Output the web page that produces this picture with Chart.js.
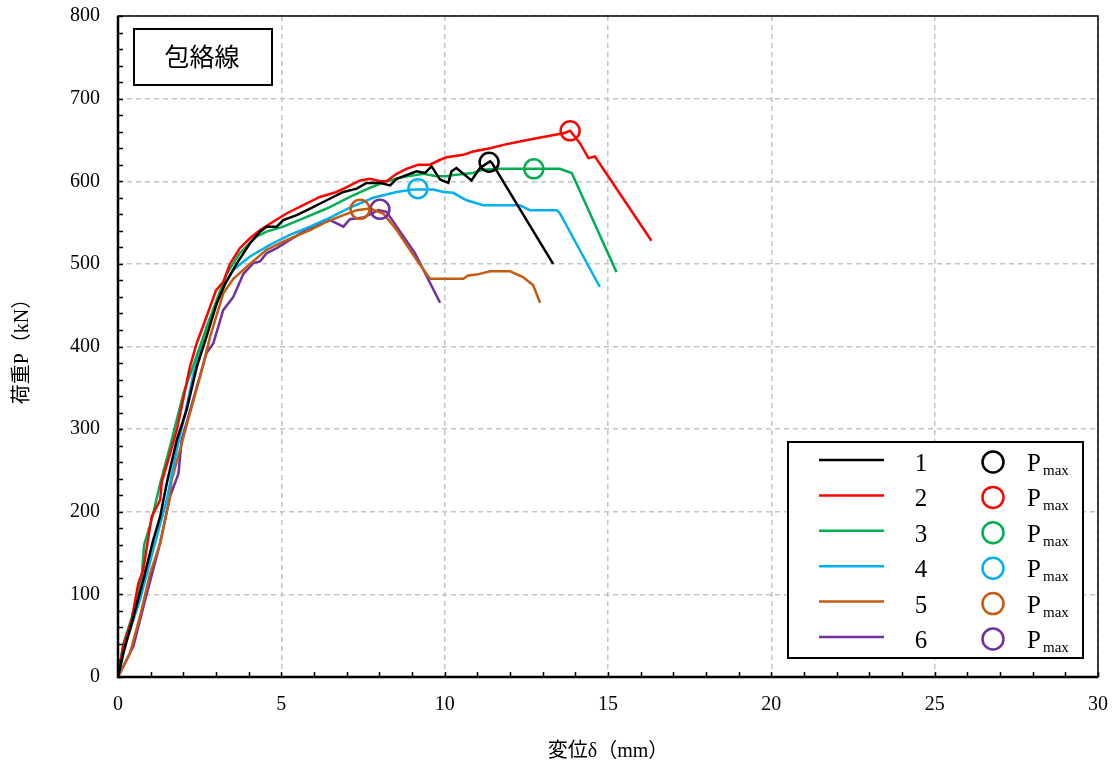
<!DOCTYPE html>
<html>
<head>
<meta charset="utf-8">
<script src="https://cdn.jsdelivr.net/npm/chart.js@4/dist/chart.umd.min.js"></script>
<style>
  html, body { margin: 0; padding: 0; background: #fff; }
  #wrap { width: 1115px; height: 771px; }
</style>
</head>
<body>
<div id="wrap"><canvas id="c" width="1115" height="771"></canvas></div>
<script>
// ---- data ----
const seriesLabels = ['1', '2', '3', '4', '5', '6'];
const pmaxLabel = 'P';
const pmaxSub = 'max';
const xTitle = '変位δ（mm）';
const yTitle = '荷重P（kN）';
const boxTitle = '包絡線';

const disp1 = [0, 0.16, 0.42, 0.77, 1.08, 1.29, 1.49, 1.8, 2.1, 2.41, 2.71, 3.02, 3.28, 3.63, 4.04, 4.35, 4.55, 4.86, 5.06, 5.47, 5.88, 6.39, 6.9, 7.31, 7.61, 8.02, 8.33, 8.53, 9.14, 9.4, 9.6, 9.86, 10.11, 10.21, 10.36, 10.82, 11.08, 11.39, 11.45, 13.32];
const load1 = [0, 29, 65, 117, 166, 194, 234, 287, 323, 375, 412, 452, 476, 500, 525, 539, 545, 545, 553, 559, 567, 577, 587, 591, 598, 598, 595, 603, 612, 610, 618, 602, 598, 612, 616, 601, 616, 624, 622, 500];

const disp2 = [0, 0.16, 0.42, 0.62, 0.77, 1.03, 1.29, 1.34, 1.54, 1.8, 2.2, 2.41, 2.71, 3.0, 3.22, 3.43, 3.73, 4.04, 4.35, 4.75, 5.16, 5.67, 6.18, 6.69, 7.0, 7.41, 7.71, 8.02, 8.22, 8.53, 8.83, 9.19, 9.55, 9.86, 10.06, 10.57, 10.87, 11.39, 11.8, 12.3, 12.81, 13.22, 13.63, 13.84, 14.14, 14.4, 14.6, 16.33];
const load2 = [0, 37, 69, 113, 129, 194, 214, 236, 263, 299, 375, 404, 436, 468, 478, 500, 519, 531, 541, 551, 561, 571, 581, 587, 593, 601, 603, 600, 600, 609, 615, 620, 620, 626, 629, 632, 636, 640, 644, 648, 652, 655, 658, 661, 646, 628, 630, 528];

const disp3 = [0, 0.16, 0.42, 0.72, 0.8, 1.03, 1.29, 1.6, 2.0, 2.51, 3.02, 3.33, 3.73, 4.24, 4.55, 5.06, 5.67, 6.39, 7.1, 7.71, 8.22, 8.73, 9.35, 9.75, 10.06, 10.36, 10.87, 11.18, 11.58, 13.53, 13.89, 15.26];
const load3 = [0, 40, 72, 120, 160, 190, 234, 280, 343, 400, 456, 488, 513, 533, 539, 545, 555, 567, 581, 592, 600, 605, 609, 606, 606, 608, 610, 614, 615, 615, 610, 490];

const disp4 = [0, 0.27, 0.67, 1.08, 1.49, 1.8, 2.05, 2.31, 2.71, 3.12, 3.53, 4.04, 4.65, 5.26, 5.88, 6.49, 7.1, 7.81, 8.53, 9.04, 9.65, 9.96, 10.26, 10.67, 11.18, 12.3, 12.61, 13.43, 13.53, 14.75];
const load4 = [0, 45, 93, 154, 214, 275, 318, 367, 424, 464, 493, 509, 523, 535, 545, 556, 568, 580, 587, 590, 590, 587, 586, 577, 571, 571, 565, 565, 561, 472];

const disp5 = [0, 0.37, 0.67, 0.98, 1.29, 1.59, 1.64, 1.9, 2.2, 2.51, 2.82, 3.22, 3.53, 4.04, 4.55, 5.06, 5.88, 6.39, 6.9, 7.31, 7.71, 8.12, 8.53, 9.14, 9.55, 10.57, 10.72, 10.98, 11.39, 12.0, 12.4, 12.71, 12.92];
const load5 = [0, 29, 73, 125, 162, 218, 238, 275, 319, 363, 412, 464, 482, 500, 517, 527, 541, 551, 559, 565, 567, 561, 541, 505, 482, 482, 486, 487, 491, 491, 484, 474, 453];

const disp6 = [0, 0.47, 0.83, 1.29, 1.59, 1.85, 1.95, 2.41, 2.71, 2.92, 3.22, 3.53, 3.84, 4.14, 4.35, 4.55, 4.86, 5.26, 5.67, 6.18, 6.49, 6.9, 7.1, 7.51, 7.71, 7.97, 8.22, 9.09, 9.86];
const load6 = [0, 37, 93, 162, 218, 246, 287, 351, 392, 404, 444, 460, 488, 501, 503, 513, 519, 529, 539, 549, 553, 545, 554, 556, 560, 565, 563, 513, 453];

const pmaxDisp = [11.36, 13.84, 12.73, 9.18, 7.41, 8.02];
const pmaxLoad = [623, 661, 615, 591, 566, 566];

const xTicksMajor = [0, 5, 10, 15, 20, 25, 30];
const yTicksMajor = [0, 100, 200, 300, 400, 500, 600, 700, 800];

// ---- styles ----
const colors = ['#000000', '#FF0000', '#00B050', '#00B0F0', '#C55A11', '#7030A0'];

const dispAll = [disp1, disp2, disp3, disp4, disp5, disp6];
const loadAll = [load1, load2, load3, load4, load5, load6];

const datasets = [];
for (let i = 0; i < 6; i++) {
  datasets.push({
    label: 'Pmax ' + seriesLabels[i],
    data: [{ x: pmaxDisp[i], y: pmaxLoad[i] }],
    showLine: false,
    pointStyle: 'circle',
    pointRadius: 9.5,
    pointBorderWidth: 2.5,
    pointBorderColor: colors[i],
    pointBackgroundColor: 'rgba(0,0,0,0)',
    borderColor: colors[i],
    order: 0
  });
}
for (let i = 0; i < 6; i++) {
  datasets.push({
    label: seriesLabels[i],
    data: dispAll[i].map((d, k) => ({ x: d, y: loadAll[i][k] })),
    showLine: true,
    borderColor: colors[i],
    borderWidth: 2.5,
    pointRadius: 0,
    tension: 0,
    fill: false,
    order: 1 + i
  });
}

const serif = "'Liberation Serif', 'Noto Sans CJK JP', serif";

const decorPlugin = {
  id: 'decor',
  afterDraw(chart) {
    const { ctx, chartArea: a, scales: { x, y } } = chart;
    ctx.save();
    // inward minor ticks
    ctx.strokeStyle = '#000';
    ctx.lineWidth = 1.5;
    ctx.beginPath();
    for (let v = 0; v <= 30; v += 1) {
      const px = Math.round(x.getPixelForValue(v)) + 0.5;
      ctx.moveTo(px, a.bottom);
      ctx.lineTo(px, a.bottom - 5);
    }
    for (let v = 0; v <= 800; v += 20) {
      const py = Math.round(y.getPixelForValue(v)) + 0.5;
      ctx.moveTo(a.left, py);
      ctx.lineTo(a.left + 5, py);
    }
    ctx.stroke();
    // frame
    ctx.lineWidth = 1.5;
    ctx.strokeRect(a.left, a.top, a.right - a.left, a.bottom - a.top);
    ctx.lineWidth = 2.5;
    ctx.beginPath();
    ctx.moveTo(a.left, a.top);
    ctx.lineTo(a.left, a.bottom);
    ctx.lineTo(a.right, a.bottom);
    ctx.stroke();

    // title box
    ctx.fillStyle = '#fff';
    ctx.fillRect(134, 29, 138, 56);
    ctx.lineWidth = 2;
    ctx.strokeStyle = '#000';
    ctx.strokeRect(134, 29, 138, 56);
    ctx.fillStyle = '#000';
    ctx.font = "25px 'Noto Sans CJK JP', sans-serif";
    ctx.textAlign = 'center';
    ctx.textBaseline = 'middle';
    ctx.fillText(boxTitle, 202, 56);

    // legend
    const lx = 788, ly = 442, lw = 295, lh = 216;
    ctx.fillStyle = '#fff';
    ctx.fillRect(lx, ly, lw, lh);
    ctx.lineWidth = 2;
    ctx.strokeStyle = '#000';
    ctx.strokeRect(lx, ly, lw, lh);
    for (let i = 0; i < seriesLabels.length; i++) {
      const cy = 460 + i * 35.4;
      ctx.strokeStyle = colors[i];
      ctx.lineWidth = 2.5;
      ctx.beginPath();
      ctx.moveTo(819, cy);
      ctx.lineTo(884, cy);
      ctx.stroke();
      ctx.beginPath();
      ctx.arc(993, cy + 2, 10.5, 0, Math.PI * 2);
      ctx.stroke();
      ctx.fillStyle = '#000';
      ctx.font = '25px ' + serif;
      ctx.textAlign = 'center';
      ctx.textBaseline = 'alphabetic';
      ctx.fillText(seriesLabels[i], 921, cy + 11);
      ctx.textAlign = 'left';
      ctx.fillText(pmaxLabel, 1027, cy + 11);
      ctx.font = '15px ' + serif;
      ctx.fillText(pmaxSub, 1043, cy + 15);
    }
    ctx.restore();
  }
};

new Chart(document.getElementById('c'), {
  type: 'scatter',
  data: { datasets },
  options: {
    responsive: false,
    animation: false,
    devicePixelRatio: 1,
    layout: { padding: { top: 16, right: 17, left: 0, bottom: 0 } },
    plugins: { legend: { display: false }, tooltip: { enabled: false } },
    scales: {
      x: {
        type: 'linear',
        min: 0, max: 30,
        afterFit(s) { s.height = 94; s.paddingLeft = 0; s.paddingRight = 0; s.paddingTop = 0; s.paddingBottom = 0; },
        afterBuildTicks(s) { s.ticks = xTicksMajor.map(v => ({ value: v })); },
        grid: { color: '#c4c4c4', lineWidth: 1.5, drawTicks: false },
        border: { display: false, dash: [5, 4] },
        ticks: { padding: 16, color: '#000', font: { family: serif, size: 20 } },
        title: { display: true, text: xTitle, color: '#000', font: { family: serif, size: 20 }, padding: { top: 0, bottom: 7 } }
      },
      y: {
        type: 'linear',
        min: 0, max: 800,
        afterFit(s) { s.width = 118; s.paddingLeft = 0; s.paddingRight = 0; s.paddingTop = 0; s.paddingBottom = 0; },
        afterBuildTicks(s) { s.ticks = yTicksMajor.map(v => ({ value: v })); },
        grid: { color: '#c4c4c4', lineWidth: 1.5, drawTicks: false },
        border: { display: false, dash: [5, 4] },
        ticks: { padding: 18, color: '#000', font: { family: serif, size: 20 } },
        title: { display: true, text: yTitle, color: '#000', font: { family: serif, size: 20 }, padding: { top: 11, bottom: 0 } }
      }
    }
  },
  plugins: [decorPlugin]
});
</script>
</body>
</html>
